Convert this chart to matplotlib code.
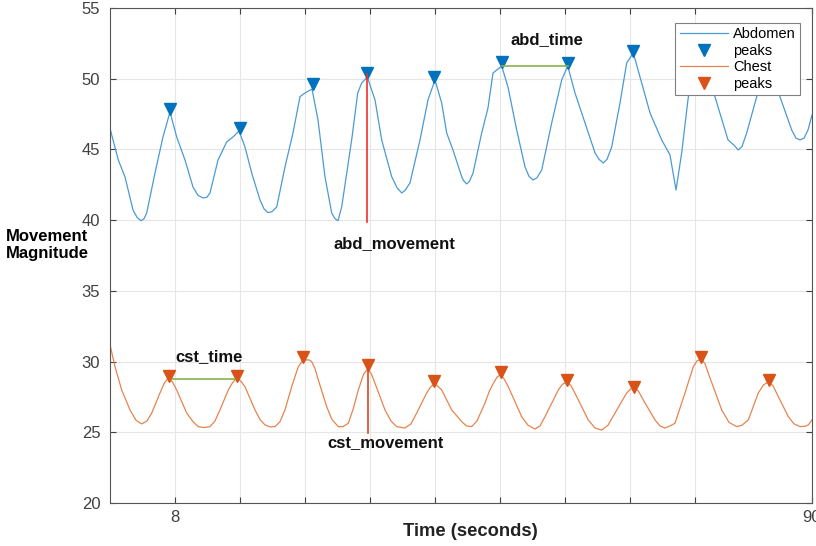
import matplotlib
matplotlib.use("Agg")
import matplotlib.pyplot as plt

# abdomen signal
abd_t = [7.00, 7.128, 7.231, 7.354, 7.415, 7.477, 7.523, 7.565, 7.692, 7.815,
         7.923, 8.026, 8.154, 8.277, 8.354, 8.431, 8.492, 8.538, 8.662, 8.795,
         8.892, 8.985, 9.077, 9.180, 9.308, 9.369, 9.431, 9.492, 9.565, 9.692,
         9.815, 9.923, 10.00, 10.108, 10.200, 10.308, 10.411, 10.462, 10.508, 10.565,
         10.718, 10.811, 10.872, 10.958, 11.077, 11.180, 11.334, 11.415, 11.488, 11.538,
         11.615, 11.769, 11.892, 12.000, 12.103, 12.180, 12.277, 12.411, 12.438, 12.488,
         12.531, 12.585, 12.718, 12.815, 12.892, 13.026, 13.123, 13.257, 13.385, 13.446,
         13.508, 13.569, 13.642, 13.795, 13.949, 14.042, 14.154, 14.308, 14.462, 14.523,
         14.589, 14.646, 14.718, 14.846, 14.949, 15.051, 15.154, 15.308, 15.488, 15.615,
         15.708, 15.795, 15.897, 16.077, 16.308, 16.508, 16.600, 16.666, 16.723, 16.795,
         16.948, 17.123, 17.308, 17.488, 17.554, 17.615, 17.677, 17.738, 17.80]
abd_v = [46.49, 44.25, 43.05, 40.72, 40.20, 39.96, 40.10, 40.51, 43.33, 45.88,
         47.65, 45.88, 44.25, 42.34, 41.75, 41.57, 41.62, 41.92, 44.25, 45.53,
         45.88, 46.30, 45.17, 43.33, 41.42, 40.80, 40.53, 40.60, 40.93, 43.76,
         46.16, 48.73, 48.99, 49.27, 47.08, 43.05, 40.51, 40.10, 39.96, 40.95,
         45.67, 48.99, 49.70, 50.12, 48.50, 45.67, 43.07, 42.30, 41.92, 42.10,
         42.63, 45.67, 48.50, 49.91, 48.28, 46.16, 44.96, 43.07, 42.80, 42.56,
         42.75, 43.33, 46.16, 47.93, 50.40, 50.90, 49.41, 46.37, 43.76, 43.10,
         42.84, 43.00, 43.55, 46.87, 49.91, 50.90, 48.99, 46.87, 44.75, 44.30,
         44.04, 44.30, 45.17, 48.28, 51.11, 51.82, 50.12, 47.58, 45.67, 44.61,
         42.13, 44.75, 48.71, 51.18, 48.71, 45.67, 45.30, 44.96, 45.20, 46.16,
         48.71, 50.62, 48.71, 46.37, 45.80, 45.67, 45.80, 46.37, 47.43]

# chest signal
cst_t = [7.000, 7.077, 7.180, 7.308, 7.400, 7.488, 7.569, 7.642, 7.769, 7.838,
         7.897, 7.962, 8.026, 8.180, 8.277, 8.358, 8.446, 8.538, 8.615, 8.692,
         8.820, 8.885, 8.949, 9.015, 9.077, 9.231, 9.308, 9.385, 9.462, 9.538,
         9.615, 9.692, 9.795, 9.897, 9.954, 10.000, 10.062, 10.103, 10.154, 10.205,
         10.334, 10.415, 10.512, 10.585, 10.666, 10.738, 10.820, 10.900, 10.965, 11.023,
         11.077, 11.231, 11.323, 11.411, 11.538, 11.631, 11.718, 11.872, 11.931, 11.989,
         12.046, 12.103, 12.257, 12.411, 12.485, 12.565, 12.646, 12.769, 12.831, 12.897,
         12.954, 13.000, 13.054, 13.128, 13.334, 13.431, 13.538, 13.615, 13.692, 13.897,
         13.962, 14.026, 14.092, 14.180, 14.358, 14.462, 14.565, 14.662, 14.769, 14.949,
         15.008, 15.066, 15.131, 15.205, 15.385, 15.462, 15.538, 15.615, 15.692, 15.846,
         15.974, 16.031, 16.092, 16.154, 16.205, 16.411, 16.523, 16.642, 16.723, 16.820,
         16.974, 17.054, 17.128, 17.200, 17.282, 17.436, 17.523, 17.615, 17.692, 17.742,
         17.800]
cst_v = [31.2, 29.64, 27.99, 26.58, 25.85, 25.59, 25.80, 26.36, 27.78, 28.50,
         28.84, 28.55, 27.99, 26.36, 25.75, 25.40, 25.33, 25.40, 25.80, 26.58,
         27.99, 28.50, 28.84, 28.60, 28.22, 26.58, 25.90, 25.52, 25.38, 25.40,
         25.75, 26.58, 28.22, 29.64, 30.00, 30.11, 30.12, 29.99, 29.50, 28.70,
         26.81, 25.90, 25.40, 25.40, 25.64, 26.60, 27.99, 29.10, 29.47, 29.10,
         28.46, 26.58, 25.80, 25.40, 25.30, 25.60, 26.36, 27.78, 28.20, 28.41,
         28.25, 27.99, 26.58, 25.75, 25.45, 25.40, 25.80, 27.07, 27.85, 28.46,
         28.90, 29.05, 28.85, 28.22, 26.10, 25.50, 25.23, 25.45, 26.10, 27.99,
         28.40, 28.56, 28.30, 27.52, 25.87, 25.30, 25.16, 25.50, 26.36, 27.78,
         28.05, 28.13, 27.90, 27.28, 25.87, 25.45, 25.30, 25.45, 25.64, 27.78,
         29.64, 30.05, 30.18, 29.85, 29.17, 26.58, 25.70, 25.40, 25.50, 25.87,
         27.78, 28.35, 28.56, 28.30, 27.52, 26.10, 25.60, 25.40, 25.42, 25.52,
         25.87]

# detected peaks
abd_peak_t = [7.92, 9.00, 10.12, 10.96, 11.98, 13.03, 14.04, 15.05, 16.08, 17.12]
abd_peak_v = [47.84, 46.49, 49.60, 50.38, 50.14, 51.16, 51.13, 51.98, 51.5, 50.9]
cst_peak_t = [7.91, 8.96, 9.97, 10.965, 11.99, 13.01, 14.035, 15.066, 16.09, 17.14]
cst_peak_v = [28.98, 28.98, 30.34, 29.76, 28.63, 29.28, 28.70, 28.18, 30.30, 28.70]

# annotation segments
abd_move_t = [10.95, 10.95]
abd_move_v = [39.9, 50.3]
cst_move_t = [10.965, 10.965]
cst_move_v = [24.93, 29.64]
abd_time_t = [13.03, 14.04]
abd_time_v = [50.88, 50.88]
cst_time_t = [7.97, 8.92]
cst_time_v = [28.8, 28.8]

x_ticks = [8, 9, 10, 11, 12, 13, 14, 15, 16, 17.8]
x_tick_labels = ["8", "", "", "", "", "", "", "", "", "90"]
y_ticks = [20, 25, 30, 35, 40, 45, 50, 55]

plt.rcParams["font.family"] = ["Liberation Sans", "DejaVu Sans"]

fig = plt.figure(figsize=(8.16, 5.46), dpi=100)
ax = fig.add_axes([110 / 816, 43 / 546, 702 / 816, 495 / 546])

ax.plot(abd_t, abd_v, color="#4B9AD4", linewidth=0.9, solid_joinstyle="round",
        label="Abdomen")
ax.plot(abd_peak_t, abd_peak_v, linestyle="none", marker="v", markersize=8,
        color="#0072BD", label="peaks")
ax.plot(cst_t, cst_v, color="#E6844F", linewidth=0.9, solid_joinstyle="round",
        label="Chest")
ax.plot(cst_peak_t, cst_peak_v, linestyle="none", marker="v", markersize=8,
        color="#D95319", label="peaks")

ax.plot(abd_move_t, abd_move_v, color="#F0302A", linewidth=1.2)
ax.plot(cst_move_t, cst_move_v, color="#D24A28", linewidth=1.2)
ax.plot(abd_time_t, abd_time_v, color="#86B34A", linewidth=1.2)
ax.plot(cst_time_t, cst_time_v, color="#86B34A", linewidth=1.2)

bold = dict(fontsize=12, fontweight="bold", ha="center", va="center", color="#111111")
ax.text(13.715, 52.79, "abd_time", **bold)
ax.text(11.369, 38.31, "abd_movement", **bold)
ax.text(8.523, 30.34, "cst_time", **bold)
ax.text(11.243, 24.24, "cst_movement", **bold)

ax.set_xlim(7, 17.8)
ax.set_ylim(20, 55)
ax.set_xticks(x_ticks)
ax.set_xticklabels(x_tick_labels)
ax.set_yticks(y_ticks)
ax.grid(True, color="#E6E6E6", linewidth=0.8)
ax.set_axisbelow(True)
ax.tick_params(direction="in", length=4, width=0.8, top=True, right=True,
               labelsize=12, labelcolor="#404040", color="#404040")
ax.tick_params(axis="x", pad=5)
ax.tick_params(axis="y", pad=7)
for s in ax.spines.values():
    s.set_color("#555555")
    s.set_linewidth(0.8)

fig.text(6 / 816, 1 - 245 / 546, "Movement\nMagnitude", fontsize=12,
         fontweight="bold", ha="left", va="center", linespacing=1.1)
fig.text(470 / 816, 1 - 531 / 546, "Time (seconds)", fontsize=13.2,
         fontweight="bold", ha="center", va="center", color="#222222")

leg = ax.legend(loc="upper right", bbox_to_anchor=(0.983, 0.970), borderaxespad=0,
                fontsize=10.5, handlelength=3.3, handletextpad=0.35,
                labelspacing=0.18, borderpad=0.3, fancybox=False, framealpha=1)
leg.get_frame().set_edgecolor("#808080")
leg.get_frame().set_linewidth(0.8)

fig.savefig("out.png", dpi=100)
